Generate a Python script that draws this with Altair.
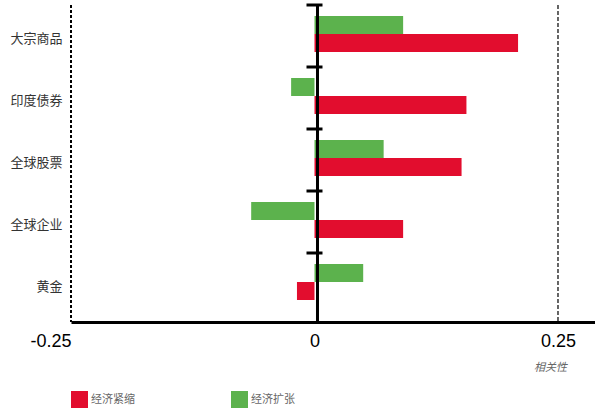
import altair as alt
import pandas as pd

# Asset classes and their correlation under each economic regime
categories = ["大宗商品", "印度债券", "全球股票", "全球企业", "黄金"]
contraction = [0.209, 0.156, 0.151, 0.091, -0.018]   # 经济紧缩
expansion = [0.091, -0.024, 0.071, -0.065, 0.050]    # 经济扩张
series_names = ["经济紧缩", "经济扩张"]
series_colors = ["#e20d2e", "#5cb24d"]
x_ticks = [-0.25, 0, 0.25]

rows = []
for cat, c, e in zip(categories, contraction, expansion):
    rows.append({"category": cat, "series": "经济紧缩", "value": c})
    rows.append({"category": cat, "series": "经济扩张", "value": e})
df = pd.DataFrame(rows)
cats = pd.DataFrame({"category": categories})

CJK = "Noto Sans CJK SC"

x_scale = alt.Scale(domain=[-0.25, 0.288], nice=False, zero=False)
y_scale = alt.Scale(range=[0, 310], paddingInner=0, paddingOuter=0)

bars = alt.Chart(df).mark_bar(size=18).encode(
    x=alt.X(
        "value:Q",
        scale=x_scale,
        axis=alt.Axis(
            values=x_ticks,
            grid=False,
            ticks=False,
            domainColor="black",
            domainWidth=3,
            labelFont="Liberation Sans",
            labelFontSize=18,
            labelColor="black",
            labelPadding=10,
            labelAlign={"condition": {"test": "datum.value < 0", "value": "right"}, "value": "center"},
            labelExpr="(datum.value < 0 ? '-' : '') + format(abs(datum.value), '.2~f')",
            title="相关性",
            titleFont=CJK,
            titleFontSize=11,
            titleFontStyle="italic",
            titleFontWeight="normal",
            titleColor="#666",
            titleX=479,
            titleY=45,
            titleBaseline="middle",
        ),
    ),
    y=alt.Y(
        "category:N",
        sort=categories,
        scale=y_scale,
        axis=alt.Axis(
            title=None,
            domain=False,
            ticks=False,
            labelFont=CJK,
            labelFontSize=13,
            labelColor="#333",
            labelPadding=9,
            labelOffset=3,
        ),
    ),
    yOffset=alt.YOffset(
        "series:N",
        sort=["经济扩张", "经济紧缩"],
        scale=alt.Scale(range=[11, 47], paddingInner=0, paddingOuter=0),
    ),
    color=alt.Color(
        "series:N",
        scale=alt.Scale(domain=series_names, range=series_colors),
        legend=alt.Legend(
            title=None,
            orient="none",
            legendX=0,
            legendY=386,
            direction="horizontal",
            symbolType="square",
            symbolSize=289,
            symbolStrokeWidth=0,
            symbolOpacity=1,
            labelFont=CJK,
            labelFontSize=11,
            labelColor="#666",
            labelOffset=3,
            columnPadding=96,
        ),
    ),
)

# dashed reference lines at the ends of the scale
left_ref = alt.Chart(pd.DataFrame({"v": [-0.25]})).mark_rule(
    color="black", strokeWidth=2, strokeDash=[3, 2]
).encode(x=alt.X("v:Q", scale=x_scale))
right_ref = alt.Chart(pd.DataFrame({"v": [0.25]})).mark_rule(
    color="#333", strokeWidth=1.5, strokeDash=[4, 2]
).encode(x=alt.X("v:Q", scale=x_scale))

# zero line with category separators
zero_line = alt.Chart(pd.DataFrame({"v": [0]})).mark_rule(
    color="black", strokeWidth=3, xOffset=3
).encode(x=alt.X("v:Q", scale=x_scale))
separators = alt.Chart(cats).mark_rule(
    color="black", strokeWidth=3, xOffset=-8, x2Offset=8
).encode(
    x=alt.datum(0),
    x2=alt.datum(0),
    y=alt.Y("category:N", sort=categories, scale=y_scale, bandPosition=0),
)

chart = alt.layer(left_ref, right_ref, bars, zero_line, separators).properties(
    width=524,
    height=317,
    padding={"left": 71, "top": 5, "right": 0, "bottom": 90},
    autosize="none",
    background="white",
).configure_view(stroke=None)

chart.save("out.html", embed_options={"renderer": "svg", "actions": False})
